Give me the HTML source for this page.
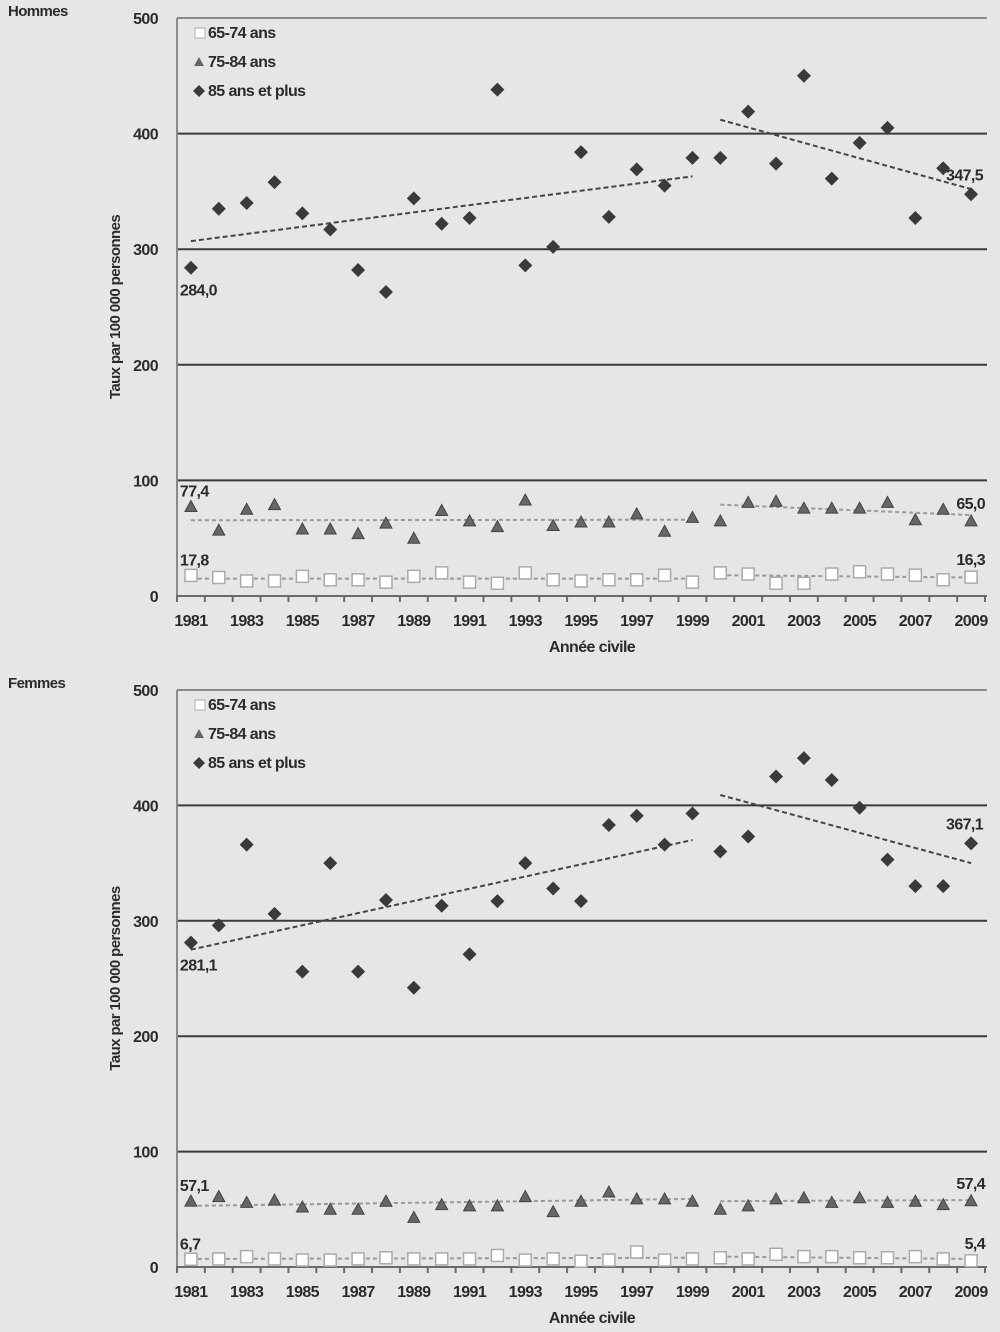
<!DOCTYPE html>
<html><head><meta charset="utf-8">
<style>
html,body{margin:0;padding:0;background:#e6e6e6;}
svg{display:block;font-family:"Liberation Sans Narrow","Liberation Sans",sans-serif;}
text{fill:#2b2b2b;font-weight:bold;letter-spacing:-0.6px;}
</style></head>
<body>
<svg id="chart" width="1000" height="1332" viewBox="0 0 1000 1332" xmlns="http://www.w3.org/2000/svg">
<rect width="1000" height="1332" fill="#e6e6e6"/>
</svg>
<script>
const years = ["1981","1982","1983","1984","1985","1986","1987","1988","1989","1990","1991","1992","1993","1994","1995","1996","1997","1998","1999","2000","2001","2002","2003","2004","2005","2006","2007","2008","2009"];
const yTicks = [0,100,200,300,400,500];
const menOld = [284,335,340,358,331,317,282,263,344,322,327,438,286,302,384,328,369,355,379,379,419,374,450,361,392,405,327,370,347.5];
const menMid = [77.4,57,75,79,58,58,54,63,50,74,65,60,83,61,64,64,71,56,68,65,81,82,76,76,76,81,66,75,65.0];
const menYoung = [17.8,16,13,13,17,14,14,12,17,20,12,11,20,14,13,14,14,18,12,20,19,11,11,19,21,19,18,14,16.3];
const womenOld = [281.1,296,366,306,256,350,256,318,242,313,271,317,350,328,317,383,391,366,393,360,373,425,441,422,398,353,330,330,367.1];
const womenMid = [57.1,61,56,58,52,50,50,57,43,54,53,53,61,48,57,65,59,59,57,50,53,59,60,56,60,56,57,54,57.4];
const womenYoung = [6.7,7,9,7,6,6,7,8,7,7,7,10,6,7,5,6,13,6,7,8,7,11,9,9,8,8,9,7,5.4];
// trend endpoints [start value, end value] for 1981-1999 and 2000-2009
const menTrendOld = [[307,363],[412,352]];
const menTrendMid = [[65.5,66],[79,70]];
const menTrendYoung = [[15,15],[18,16]];
const womenTrendOld = [[275,370],[409,350]];
const womenTrendMid = [[53,59],[57,58]];
const womenTrendYoung = [[7,8],[9,7]];
const menLabels = ["284,0","347,5","77,4","65,0","17,8","16,3"];
const womenLabels = ["281,1","367,1","57,1","57,4","6,7","5,4"];

const svg = document.getElementById('chart');
const NS = "http://www.w3.org/2000/svg";
function mk(tag, attrs, parent){const e=document.createElementNS(NS,tag);for(const k in attrs)e.setAttribute(k,attrs[k]);(parent||svg).appendChild(e);return e;}

function panel(name, title, top, zero, old, mid, young, tOld, tMid, tYoung, labels){
  const g = mk('g',{});
  
  
  const x0=177, x1=987, n=years.length, step=(985-177)/n;
  const X = i => x0 + step/2 + step*i;
  const Y = v => zero - (zero-top)*v/500;
  const t = mk('text',{x:8,y:top-2,'font-size':15},g); t.textContent=title;
  
  
  yTicks.forEach(v=>{
    if(v>0){const l=mk('line',{x1:x0,x2:x1,y1:Y(v),y2:Y(v),stroke:v===500?'#8a8a8a':'#3a3a3a','stroke-width':2},g);
      
      }
    const tx=mk('text',{x:158,y:Y(v)+6,'font-size':16,'text-anchor':'end'},g); tx.textContent=v;
    
    
  });
  mk('line',{x1:x0,x2:x0,y1:top,y2:zero,stroke:'#8a8a8a','stroke-width':2},g);
  const xa=mk('line',{x1:x0-1,x2:x1,y1:zero,y2:zero,stroke:'#6a6a6a','stroke-width':2},g);
  
  
  for(let i=0;i<=n;i++) mk('line',{x1:x0+step*i,x2:x0+step*i,y1:zero,y2:zero+6,stroke:'#6a6a6a','stroke-width':2},g);
  years.forEach((yr,i)=>{ if(i%2===0){const tx=mk('text',{x:X(i),y:zero+30,'font-size':16,'text-anchor':'middle'},g);tx.textContent=yr;
    
    }});
  const xt=mk('text',{x:592,y:zero+56,'font-size':16,'text-anchor':'middle'},g); xt.textContent='Année civile';
  
  
  const cy=(top+zero)/2;
  const yt=mk('text',{x:120,y:cy,'font-size':15,'text-anchor':'middle',transform:`rotate(-90 120 ${cy})`},g); yt.textContent='Taux par 100 000 personnes';
  
  
  function trend(tr,color,dash){
    [[0,18],[19,28]].forEach((seg,k)=>{
      const l=mk('line',{x1:X(seg[0]),x2:X(seg[1]),y1:Y(tr[k][0]),y2:Y(tr[k][1]),stroke:color,'stroke-width':2,'stroke-dasharray':dash},g);
      
      
    });
  }
  trend(tOld,'#444','5 3'); trend(tMid,'#999','4 3'); trend(tYoung,'#999','4 3');
  young.forEach((v,i)=>{const r=mk('rect',{x:X(i)-6,y:Y(v)-6,width:12,height:12,fill:'#fff',stroke:'#aaa','stroke-width':1.5},g);
    
    });
  mid.forEach((v,i)=>{const x=X(i),y=Y(v);const p=mk('polygon',{points:`${x},${y-6} ${x+6},${y+5} ${x-6},${y+5}`,fill:'#666',stroke:'#444','stroke-width':1},g);
    
    });
  old.forEach((v,i)=>{const x=X(i),y=Y(v);const p=mk('polygon',{points:`${x},${y-7} ${x+7},${y} ${x},${y+7} ${x-7},${y}`,fill:'#3a3a3a'},g);
    
    });
  const lp=[[X(0)-11,Y(old[0])+28,'start'],[X(28)+12,Y(old[28])-14,'end'],[X(0)-11,Y(mid[0])-10,'start'],[X(28)+14,Y(mid[28])-12,'end'],[X(0)-11,Y(young[0])-10,'start'],[X(28)+14,Y(young[28])-12,'end']];
  labels.forEach((s,k)=>{const tx=mk('text',{x:lp[k][0],y:lp[k][1],'font-size':16,'text-anchor':lp[k][2]},g);tx.textContent=s;
    
    });
  const lg=mk('g',{},g);
  
  
  const ly=top+16;
  mk('rect',{x:195,y:ly-6,width:10,height:10,fill:'#fff',stroke:'#aaa'},lg);
  const l1=mk('text',{x:208,y:ly+4,'font-size':16},lg); l1.textContent='65-74 ans';
  mk('polygon',{points:`199,${ly+23} 204,${ly+32} 194,${ly+32}`,fill:'#666'},lg);
  const l2=mk('text',{x:208,y:ly+33,'font-size':16},lg); l2.textContent='75-84 ans';
  mk('polygon',{points:`199,${ly+51} 205,${ly+57} 199,${ly+63} 193,${ly+57}`,fill:'#3a3a3a'},lg);
  const l3=mk('text',{x:208,y:ly+62,'font-size':16},lg); l3.textContent='85 ans et plus';
}
panel('hommes','Hommes',18,596,menOld,menMid,menYoung,menTrendOld,menTrendMid,menTrendYoung,menLabels);
panel('femmes','Femmes',690,1267,womenOld,womenMid,womenYoung,womenTrendOld,womenTrendMid,womenTrendYoung,womenLabels);
</script>
</body></html>
